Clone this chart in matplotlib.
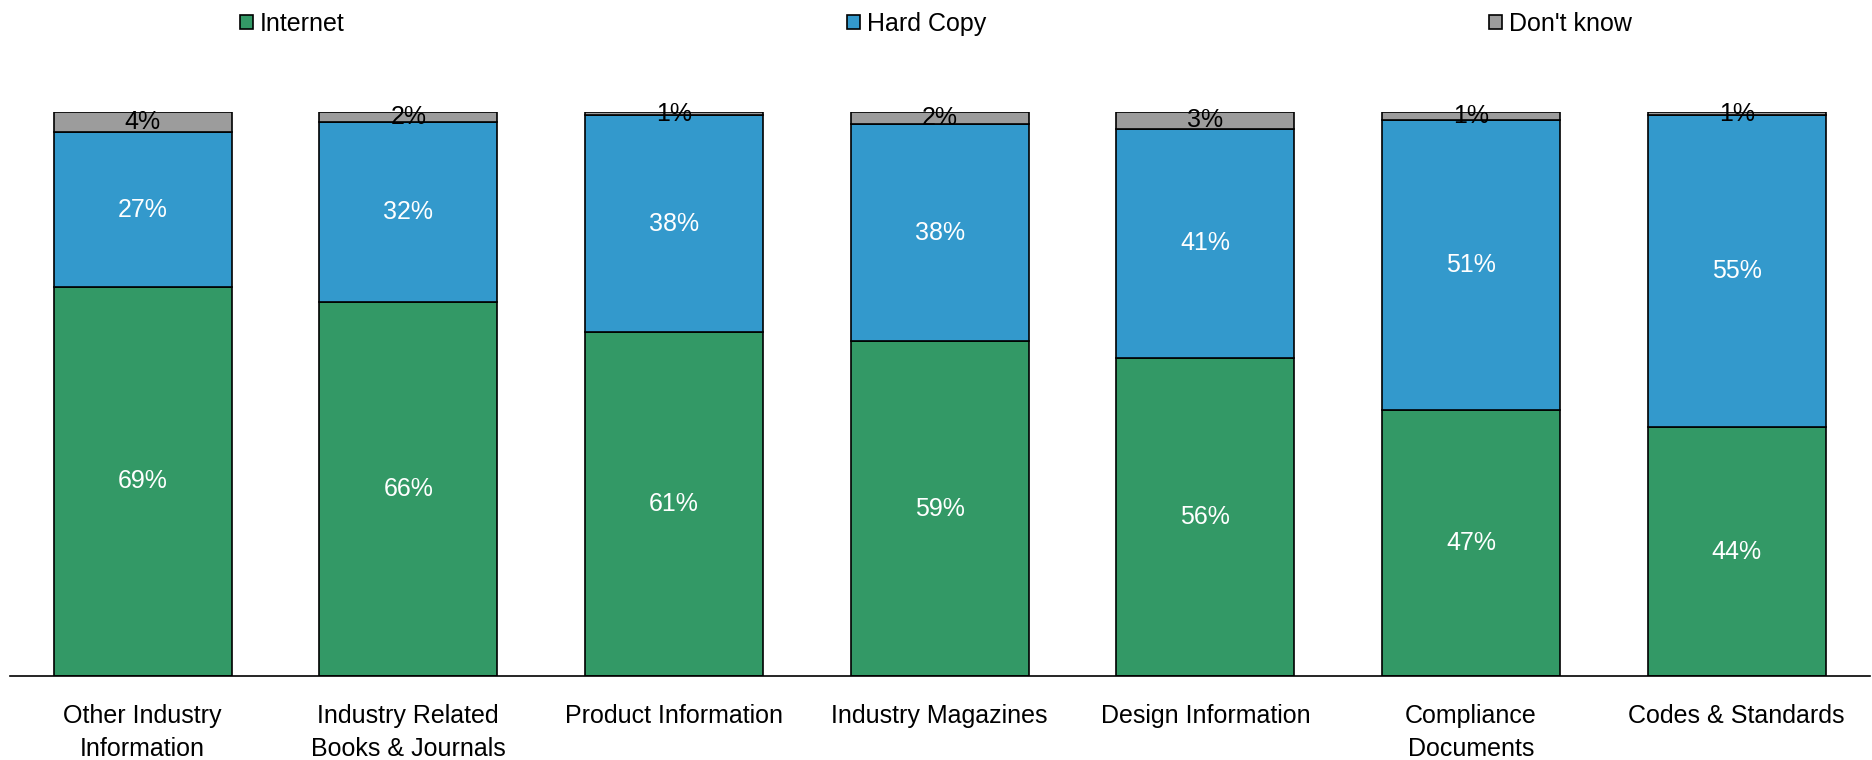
import matplotlib
matplotlib.use("Agg")
import matplotlib.pyplot as plt
from matplotlib.patches import Patch
import numpy as np

plt.rcParams['font.family'] = ['Liberation Sans', 'DejaVu Sans']

categories = ["Other Industry\nInformation", "Industry Related\nBooks & Journals",
              "Product Information", "Industry Magazines", "Design Information",
              "Compliance\nDocuments", "Codes & Standards"]
internet = [69.0, 66.3, 61.0, 59.4, 56.4, 47.2, 44.1]
hard_copy = [27.4, 32.0, 38.4, 38.4, 40.6, 51.4, 55.3]
dont_know = [3.6, 1.7, 0.6, 2.2, 3.0, 1.4, 0.6]

series = [("Internet", internet, "#339966", "white"),
          ("Hard Copy", hard_copy, "#3399CC", "white"),
          ("Don't know", dont_know, "#9C9C9C", "black")]

fig = plt.figure(figsize=(18.72, 7.6), dpi=100)
ax = fig.add_axes([0.0052, 0.1105, 0.9935, 0.7421])

x = np.arange(len(categories))
bottom = np.zeros(len(categories))
handles = []
for name, vals, color, tcolor in series:
    vals = np.array(vals)
    ax.bar(x, vals, width=0.67, bottom=bottom, color=color,
           edgecolor="black", linewidth=1.2, zorder=2)
    for xi, b, v in zip(x, bottom, vals):
        ax.text(xi, b + v / 2, f"{v:.0f}%", ha="center", va="center",
                fontsize=18, color=tcolor, zorder=3, clip_on=False)
    bottom += vals
    handles.append(Patch(facecolor=color, edgecolor="black", linewidth=1.2, label=name))

ax.set_xlim(-0.5, len(categories) - 0.5)
ax.set_ylim(0, 100)
ax.set_xticks(x)
ax.set_xticklabels(categories, fontsize=18, linespacing=1.5)
ax.tick_params(axis="x", length=0, pad=20)
ax.set_yticks([])
for s in ["left", "right", "top"]:
    ax.spines[s].set_visible(False)
ax.spines["bottom"].set_linewidth(1.2)
ax.spines["bottom"].set_zorder(4)

fig.legend(handles=handles, loc="upper center", bbox_to_anchor=(0.5, 1.004),
           ncol=3, frameon=False, fontsize=18, handlelength=0.5,
           handleheight=0.5, handletextpad=0.3, columnspacing=20.1,
           borderaxespad=0.2)

fig.savefig("out.png", dpi=100)
